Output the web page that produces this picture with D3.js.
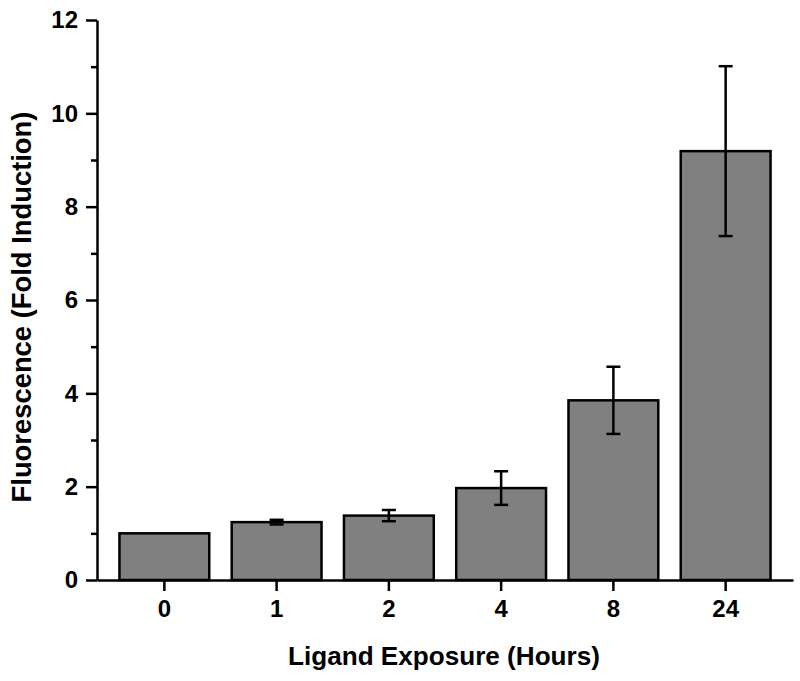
<!DOCTYPE html>
<html>
<head>
<meta charset="utf-8">
<script src="https://cdn.jsdelivr.net/npm/d3@7"></script>
<style>
  body { margin: 0; background: #fff; }
  svg { display: block; font-family: "Liberation Sans", Arial, sans-serif; }
</style>
</head>
<body>
<svg id="chart"></svg>
<script>
// Fold induction of fluorescence vs ligand exposure time
const hours = ['0', '1', '2', '4', '8', '24'];
const foldInduction = [1.0, 1.24, 1.38, 1.97, 3.85, 9.19];
const errors = [0, 0.05, 0.12, 0.36, 0.72, 1.82];
const yTicks = [0, 2, 4, 6, 8, 10, 12];

const width = 800, height = 681;
const margin = { top: 20, right: 7, bottom: 101, left: 97 };

const svg = d3.select('#chart').attr('width', width).attr('height', height);

const x = d3.scaleBand().domain(hours)
  .range([margin.left, width - margin.right]).padding(0.2);
const y = d3.scaleLinear().domain([0, 12])
  .range([height - margin.bottom, margin.top]);

// Bars
svg.append('g').selectAll('rect')
  .data(hours)
  .join('rect')
  .attr('x', d => x(d))
  .attr('y', (d, i) => y(foldInduction[i]))
  .attr('width', x.bandwidth())
  .attr('height', (d, i) => y(0) - y(foldInduction[i]))
  .attr('fill', '#808080')
  .attr('stroke', '#000')
  .attr('stroke-width', 2.5);

// Error bars
const eg = svg.append('g').attr('stroke', '#000').attr('stroke-width', 2.5);
hours.forEach((h, i) => {
  if (!errors[i]) return;
  const cx = x(h) + x.bandwidth() / 2;
  const hi = y(foldInduction[i] + errors[i]);
  const lo = y(foldInduction[i] - errors[i]);
  eg.append('line').attr('x1', cx).attr('x2', cx).attr('y1', hi).attr('y2', lo);
  eg.append('line').attr('x1', cx - 7).attr('x2', cx + 7).attr('y1', hi).attr('y2', hi);
  eg.append('line').attr('x1', cx - 7).attr('x2', cx + 7).attr('y1', lo).attr('y2', lo);
});

// Y axis (major + minor ticks)
svg.append('g')
  .attr('transform', `translate(${margin.left},0)`)
  .call(d3.axisLeft(y).tickValues(yTicks).tickSize(11).tickPadding(8).tickSizeOuter(0));
svg.append('g')
  .attr('transform', `translate(${margin.left},0)`)
  .call(d3.axisLeft(y).tickValues(d3.range(1, 12, 2)).tickSize(6).tickFormat('').tickSizeOuter(0))
  .select('.domain').remove();

// X axis
svg.append('g')
  .attr('transform', `translate(0,${y(0)})`)
  .call(d3.axisBottom(x).tickSize(11).tickPadding(9).tickSizeOuter(0));

svg.selectAll('.domain, .tick line').attr('stroke', '#000').attr('stroke-width', 2.5);
svg.selectAll('.tick text')
  .attr('fill', '#000').attr('font-size', '24px').attr('font-weight', 'bold')
  .attr('font-family', '"Liberation Sans", Arial, sans-serif');

// Axis titles, sized to match their span in the figure
function fitText(sel, targetWidth) {
  const w = sel.node().getComputedTextLength();
  sel.attr('font-size', (20 * targetWidth / w) + 'px');
}

const xTitle = svg.append('text')
  .attr('x', 444).attr('y', 665)
  .attr('text-anchor', 'middle').attr('font-size', '20px').attr('font-weight', 'bold')
  .text('Ligand Exposure (Hours)');
fitText(xTitle, 312);

const yTitle = svg.append('text')
  .attr('transform', 'translate(31,307) rotate(-90)')
  .attr('text-anchor', 'middle').attr('font-size', '20px').attr('font-weight', 'bold')
  .text('Fluorescence (Fold Induction)');
fitText(yTitle, 391);
</script>
</body>
</html>
